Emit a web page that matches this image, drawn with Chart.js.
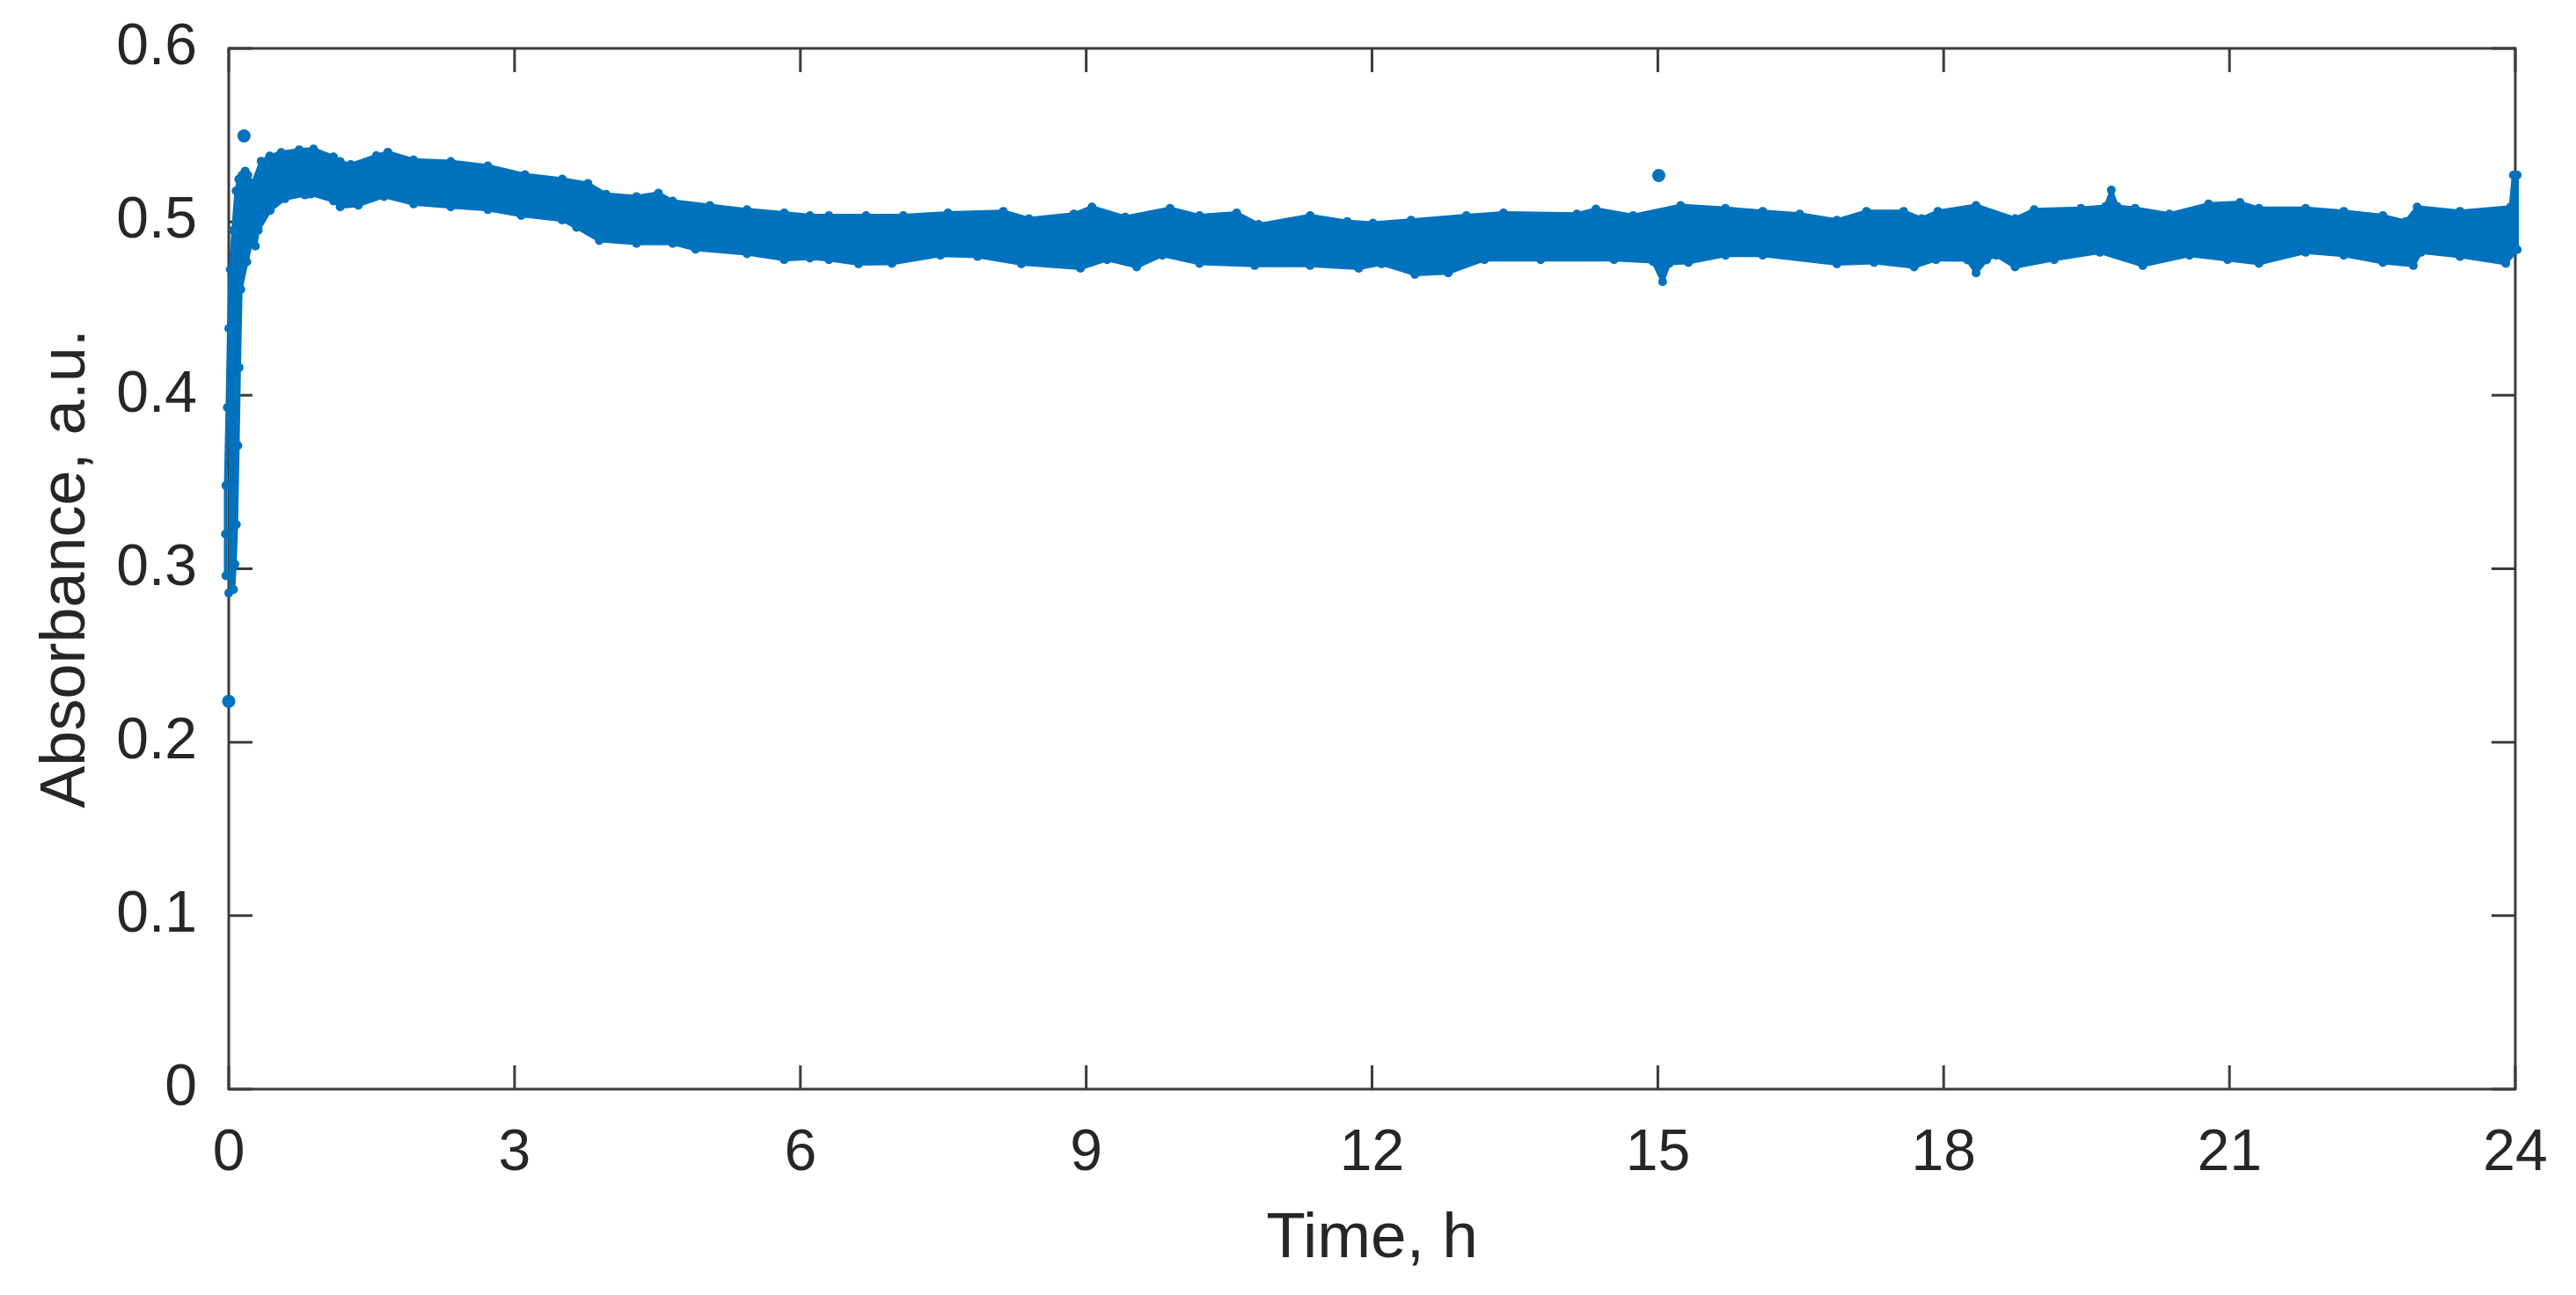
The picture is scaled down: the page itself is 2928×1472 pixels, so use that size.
<!DOCTYPE html>
<html><head><meta charset="utf-8">
<script src="https://cdn.jsdelivr.net/npm/chart.js@4.4.1/dist/chart.umd.min.js"></script>
<style>html,body{margin:0;padding:0;background:#fff;overflow:hidden}</style>
</head><body>
<canvas id="c" width="2928" height="1472" style="width:2928px;height:1472px;display:block"></canvas>
<script>
// ---- tick labels ----
const xTicks = [0, 3, 6, 9, 12, 15, 18, 21, 24];
const yTicks = [0, 0.1, 0.2, 0.3, 0.4, 0.5, 0.6];

const upperTime = [-0.03, -0.035, -0.03, -0.015, 0.0, 0.016, 0.046, 0.077, 0.105, 0.14, 0.173, 0.2, 0.25, 0.34, 0.43, 0.55, 0.74, 0.89, 1.1, 1.17, 1.28, 1.55, 1.67, 1.94, 2.33, 2.72, 3.11, 3.5, 3.77, 3.96, 4.28, 4.51, 4.66, 5.05, 5.44, 5.83, 6.1,
  6.3, 6.69, 7.08, 7.55, 8.13, 8.4, 8.87, 9.06, 9.41, 9.88, 10.19, 10.58, 10.81, 11.35, 11.74, 12.01,
  12.41, 12.99, 13.38, 14.15, 14.35, 14.74, 15.24, 15.71, 16.1, 16.49, 16.88, 17.19, 17.58, 17.77, 17.94,
  18.34, 18.75, 18.95, 19.44, 19.7, 19.76, 19.82, 20.01, 20.37, 20.78, 21.11, 21.31, 21.8, 22.2, 22.61, 22.85, 22.97, 23.42, 23.95, 23.98, 24.02];
const upperAbs = [0.296, 0.32, 0.348, 0.393, 0.4386, 0.4726, 0.4951, 0.5178, 0.5245, 0.527, 0.5293, 0.527, 0.522, 0.535, 0.538, 0.540, 0.5416, 0.542, 0.5375, 0.5348, 0.533, 0.5382, 0.5402, 0.5357, 0.5348, 0.5323, 0.5272, 0.5247, 0.5222, 0.5159, 0.5146, 0.5166, 0.512, 0.5095, 0.507, 0.5052, 0.5036,
  0.5036, 0.5036, 0.5036, 0.5052, 0.5061, 0.5019, 0.5045, 0.5086, 0.5028, 0.5078, 0.5036, 0.5052, 0.4985, 0.5036, 0.5002, 0.4993,
  0.501, 0.5036, 0.5052, 0.5045, 0.5074, 0.5036, 0.5095, 0.5078, 0.5061, 0.5045, 0.501, 0.5061, 0.5061, 0.5019, 0.5061,
  0.5095, 0.5019, 0.507, 0.5078, 0.509, 0.5183, 0.509, 0.5078, 0.5045, 0.5103, 0.5112, 0.5078, 0.5078, 0.5061, 0.5036, 0.5002, 0.5086, 0.5061, 0.5086, 0.527, 0.527];

// ---- dense measurement band: lower (bottom) edge ----
const lowerTime = [0.0, 0.05, 0.065, 0.08, 0.096, 0.11, 0.127, 0.19, 0.235, 0.28, 0.31, 0.435, 0.59, 0.8, 0.86, 1.1, 1.17, 1.36, 1.63, 1.94, 2.33, 2.72, 3.07, 3.5, 3.65, 3.89, 4.28, 4.66, 4.9, 5.44, 5.83, 6.1,
  6.3, 6.61, 6.96, 7.47, 7.86, 8.32, 8.94, 9.22, 9.53, 9.8, 10.19, 10.77, 11.35, 11.86,
  12.1, 12.45, 12.8, 13.18, 13.77, 14.54, 14.95, 15.05, 15.12, 15.32, 15.71, 16.1, 16.88, 17.27, 17.69, 17.92,
  18.25, 18.34, 18.45, 18.55, 18.75, 19.16, 19.64, 20.09, 20.58, 20.98, 21.31, 21.8, 22.2, 22.61, 22.93, 23.01, 23.42, 23.9, 24.02];
const lowerAbs = [0.286, 0.288, 0.3027, 0.3255, 0.371, 0.416, 0.461, 0.477, 0.4875, 0.486, 0.4951, 0.5066, 0.5133, 0.5155, 0.516, 0.512, 0.5086, 0.5095, 0.5146, 0.5103, 0.5086, 0.507, 0.5036, 0.501, 0.4968, 0.4892, 0.4875, 0.4875, 0.4841, 0.4816, 0.4782, 0.479,
  0.4782, 0.4757, 0.476, 0.4807, 0.48, 0.4757, 0.4732, 0.4782, 0.474, 0.4807, 0.476, 0.4748, 0.4748, 0.4732,
  0.4757, 0.4697, 0.4706, 0.4782, 0.4782, 0.4782, 0.477, 0.4655, 0.476, 0.4765, 0.4807, 0.4807, 0.4757, 0.4765, 0.474, 0.4782,
  0.478, 0.4706, 0.478, 0.4807, 0.474, 0.4782, 0.4824, 0.4748, 0.4807, 0.4782, 0.476, 0.4824, 0.4807, 0.4765, 0.4748, 0.4824, 0.48, 0.476, 0.484];

// ---- isolated points ----
const outlierTime = [0.16, 0.0, 15.01];
const outlierAbs = [0.5495, 0.2236, 0.5267];

const BLUE = '#0072BD';
const FONT = '"Liberation Sans", Arial, sans-serif';
const bandShape = upperTime.map((t, i) => ({x: t, y: upperAbs[i]}))
  .concat(lowerTime.map((t, i) => ({x: t, y: lowerAbs[i]})).reverse());
const outliers = outlierTime.map((t, i) => ({x: t, y: outlierAbs[i]}));

// target plot box in the 2928x1472 canvas
const AREA = {left: 260, top: 55, right: 2859, bottom: 1238};
const layoutState = {yWidth: 260, xHeight: 1472 - 1238};

const TICK_LEN = 27;
const framePlugin = {
  id: 'frame',
  beforeDatasetsDraw(chart) {
    const {ctx, chartArea: a, scales: {x, y}} = chart;
    ctx.save();
    ctx.strokeStyle = '#3c3c3c';
    ctx.lineWidth = 3;
    ctx.beginPath();
    xTicks.forEach(v => {
      const px = x.getPixelForValue(v);
      ctx.moveTo(px, a.bottom); ctx.lineTo(px, a.bottom - TICK_LEN);
      ctx.moveTo(px, a.top); ctx.lineTo(px, a.top + TICK_LEN);
    });
    yTicks.forEach(v => {
      const py = y.getPixelForValue(v);
      ctx.moveTo(a.left, py); ctx.lineTo(a.left + TICK_LEN, py);
      ctx.moveTo(a.right, py); ctx.lineTo(a.right - TICK_LEN, py);
    });
    ctx.stroke();
    ctx.strokeRect(a.left, a.top, a.right - a.left, a.bottom - a.top);
    ctx.restore();
  }
};

const chart = new Chart(document.getElementById('c'), {
  type: 'line',
  data: {
    datasets: [
      {
        data: bandShape,
        fill: 'shape',
        backgroundColor: BLUE,
        borderColor: BLUE,
        borderWidth: 4,
        borderJoinStyle: 'round',
        pointRadius: 5,
        pointBackgroundColor: BLUE,
        pointBorderWidth: 0,
        tension: 0,
        clip: false
      },
      {
        data: outliers,
        showLine: false,
        pointRadius: 7.5,
        pointBackgroundColor: BLUE,
        pointBorderWidth: 0,
        clip: false
      }
    ]
  },
  options: {
    responsive: false,
    animation: false,
    devicePixelRatio: 1,
    layout: {autoPadding: false, padding: {top: AREA.top, right: 2928 - AREA.right, left: 0, bottom: 0}},
    plugins: {legend: {display: false}, tooltip: {enabled: false}},
    scales: {
      x: {
        type: 'linear', min: 0, max: 24,
        afterBuildTicks: s => { s.ticks = xTicks.map(v => ({value: v})); },
        afterFit: s => { s.height = layoutState.xHeight; },
        grid: {display: false, drawTicks: true, tickLength: 34},
        border: {display: false},
        ticks: {padding: 0, color: '#262626', font: {family: FONT, size: 66}, maxRotation: 0, autoSkip: false,
          callback: v => String(v)},
        title: {display: true, text: 'Time, h', color: '#262626', font: {family: FONT, size: 73}, padding: {top: 0, bottom: 19}}
      },
      y: {
        type: 'linear', min: 0, max: 0.6,
        afterBuildTicks: s => { s.ticks = yTicks.map(v => ({value: v})); },
        afterFit: s => { s.width = layoutState.yWidth; },
        grid: {display: false, drawTicks: true, tickLength: 36},
        border: {display: false},
        ticks: {padding: 0, color: '#262626', font: {family: FONT, size: 66},
          callback: v => v === 0 ? '0' : v.toFixed(1)},
        title: {display: true, text: 'Absorbance, a.u.', color: '#262626', font: {family: FONT, size: 72}, padding: {top: 33, bottom: 0}}
      }
    }
  },
  plugins: [framePlugin]
});

// nudge the layout so the plot box lands where the reference has it
for (let k = 0; k < 3; k++) {
  const a = chart.chartArea;
  const p = chart.options.layout.padding;
  p.top += AREA.top - a.top;
  p.right += a.right - AREA.right;
  layoutState.yWidth += AREA.left - a.left;
  layoutState.xHeight += a.bottom - AREA.bottom;
  chart.update('none');
}
</script>
</body></html>
